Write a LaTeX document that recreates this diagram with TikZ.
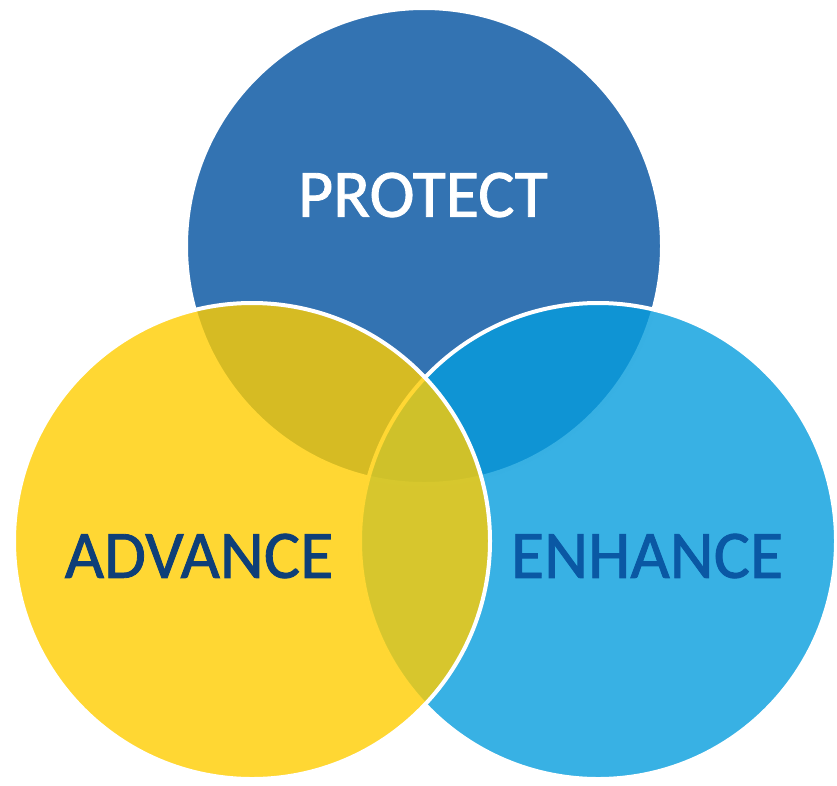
\documentclass[tikz,border=0pt]{standalone}
\usepackage{fontspec}
\setmainfont{Carlito}
\newfontfamily\lblfont{Carlito}[FakeBold=1.2]
\definecolor{topblue}{RGB}{51,115,178}
\definecolor{lightblue}{RGB}{6,157,221}
\definecolor{sun}{RGB}{255,205,0}
\definecolor{navy}{RGB}{14,63,120}
\definecolor{midblue}{RGB}{10,88,164}
\begin{document}
\begin{tikzpicture}[x=1pt,y=-1pt,
  venn/.style={circle, minimum size=476pt, inner sep=0pt, draw=white, line width=4pt},
  lbl/.style={font=\lblfont\fontsize{68}{72}\selectfont, inner sep=0pt}]
\useasboundingbox (0,0) rectangle (837,785);
\node[venn, fill=topblue] (protect) at (424,246) {};
\node[venn, fill=lightblue, fill opacity=0.8] (enhance) at (598,541) {};
\node[venn, fill=sun, fill opacity=0.8] (advance) at (252,541) {};
\node[lbl, text=white] (tprotect) at (423,195) {PROTECT};
\node[lbl, text=navy] (tadvance) at (199,556) {ADVANCE};
\node[lbl, text=midblue] (tenhance) at (647,556) {ENHANCE};
\end{tikzpicture}
\end{document}
